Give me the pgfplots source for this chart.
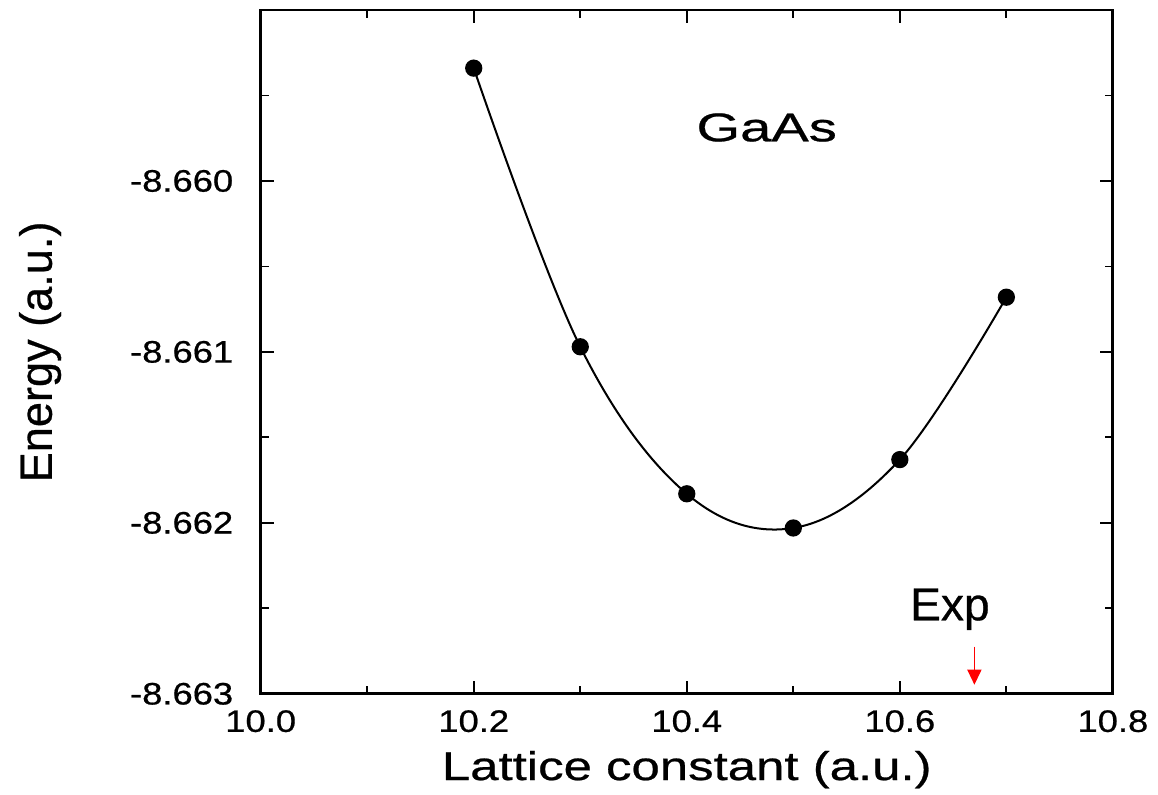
\documentclass[border=0pt]{standalone}
\usepackage{fontspec}
\setmainfont[FakeBold=0.6]{Liberation Sans}
\newfontfamily\tickfont[FakeStretch=1.17, FakeBold=0.6]{Liberation Sans}
\newfontfamily\xlabfont[FakeStretch=1.27, FakeBold=0.6]{Liberation Sans}
\newfontfamily\gaasfont[FakeStretch=1.4, FakeBold=0.6]{Liberation Sans}
\usepackage{pgfplots}
\pgfplotsset{compat=1.18}
\usetikzlibrary{arrows.meta}

\begin{document}
\begin{tikzpicture}
\begin{axis}[
  scale only axis,
  width=425pt, height=341pt,
  xmin=10.0, xmax=10.8,
  ymin=-8.663, ymax=-8.659,
  xtick={10.0,10.2,10.4,10.6,10.8},
  minor xtick={10.1,10.3,10.5,10.7},
  ytick={-8.663,-8.662,-8.661,-8.660},
  minor ytick={-8.6625,-8.6615,-8.6605,-8.6595},
  tick align=inside,
  major tick length=6.5pt,
  minor tick length=4pt,
  axis line style={line width=1.4pt},
  every tick/.style={black, line width=0.9pt},
  /pgf/number format/assume math mode=true,
  xticklabel style={font=\tickfont\fontsize{15.5}{17}\selectfont,
    inner sep=0pt, anchor=base, yshift=-19pt,
    /pgf/number format/.cd, fixed, fixed zerofill, precision=1},
  yticklabel style={font=\tickfont\fontsize{15.5}{17}\selectfont,
    inner sep=0pt, anchor=east, xshift=-13.5pt,
    /pgf/number format/.cd, fixed, fixed zerofill, precision=3},
  scaled y ticks=false,
  scaled x ticks=false,
  xlabel={Lattice constant (a.u.)},
  ylabel={Energy (a.u.)},
  xlabel style={font=\xlabfont\fontsize{20}{22}\selectfont, inner sep=0pt,
    at={(rel axis cs:0.5,0)}, anchor=base, yshift=-43pt},
  ylabel style={font=\fontsize{22.5}{24}\selectfont, inner sep=0pt,
    at={(rel axis cs:0,0.5)}, anchor=center, yshift=110pt},
  clip=false,
]
\addplot[black, line width=1pt, smooth, tension=0.6, mark=*, mark size=3.8pt,
  mark options={fill=black}] coordinates {
  (10.20,-8.65934)
  (10.30,-8.66097)
  (10.40,-8.66183)
  (10.50,-8.66203)
  (10.60,-8.66163)
  (10.70,-8.66068)
};
\node[font=\gaasfont\fontsize{20}{22}\selectfont, anchor=base, inner sep=0pt]
  at (axis cs:10.475,-8.659768) {GaAs};
\node[font=\fontsize{23}{25}\selectfont, anchor=base, inner sep=0pt]
  at (axis cs:10.647,-8.66257) {Exp};
\draw[red, line width=0.7pt, -{Triangle[length=7.5pt, width=7pt]}]
  (axis cs:10.67,-8.662724) -- (axis cs:10.67,-8.662947);
\end{axis}
\path ([shift={(-130pt,-50pt)}]current axis.south west)
      ([shift={(22.5pt,5pt)}]current axis.north east);
\end{tikzpicture}
\end{document}
